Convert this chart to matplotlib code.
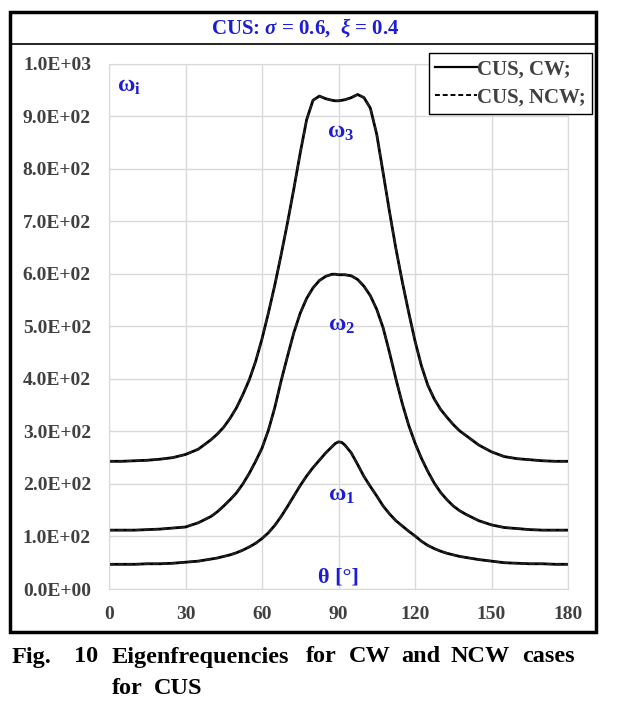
import numpy as np
import matplotlib
matplotlib.use('Agg')
import matplotlib.pyplot as plt
from matplotlib.patches import Rectangle
from matplotlib.lines import Line2D

plt.rcParams['font.family'] = ['Liberation Serif', 'DejaVu Serif']
plt.rcParams['font.weight'] = 'bold'
plt.rcParams['mathtext.fontset'] = 'custom'
plt.rcParams['mathtext.rm'] = 'Liberation Serif:bold'
plt.rcParams['mathtext.it'] = 'Liberation Serif:italic'
plt.rcParams['mathtext.bf'] = 'Liberation Serif:bold'
plt.rcParams['mathtext.default'] = 'regular'

# angle theta [deg]
theta = [0, 5, 10, 15, 20, 25, 30, 35,
         40, 42.5, 45, 47.5, 50, 52.5, 55, 57.5, 60, 62.5, 65, 67.5, 70, 72.5, 75, 77.5,
         80, 82.5, 85, 87.5, 88.75, 90, 91.25, 92.5, 95, 97.5, 100, 102.5, 105, 107.5,
         110, 112.5, 115, 117.5, 120, 122.5, 125, 127.5, 130, 132.5, 135, 137.5, 140,
         145, 150, 155, 160, 165, 170, 175, 180]

# eigenfrequencies, CW case
w1_cw = [47, 47, 47, 48, 48, 49, 51, 53,
         57, 59, 62, 65, 69, 74, 80, 87, 96, 107, 121, 138, 157, 177, 197, 215,
         231, 245, 259, 271, 277, 280, 279, 274, 259, 237, 214, 195, 177, 158,
         143, 130, 120, 110, 101, 91, 83, 77, 72, 68, 65, 62, 60,
         56, 53, 50, 49, 48, 48, 47, 47]
w2_cw = [112, 112, 112, 113, 114, 116, 118, 126,
         138, 147, 158, 170, 183, 200, 220, 243, 268, 302, 345, 396, 443, 488, 525, 553,
         573, 587, 595, 599, 599, 598, 598, 598, 596, 589, 576, 558, 532, 497,
         450, 400, 353, 312, 278, 249, 224, 202, 184, 170, 158, 149, 142,
         130, 122, 117, 115, 113, 112, 112, 112]
w3_cw = [243, 243, 244, 245, 247, 250, 256, 266,
         284, 295, 308, 325, 345, 370, 398, 433, 476, 525, 578, 636, 697, 762, 830, 893,
         930, 938, 933, 930, 929, 929, 930, 931, 935, 941, 935, 915, 865, 792,
         718, 648, 585, 527, 472, 425, 388, 362, 342, 327, 313, 301, 292,
         274, 261, 252, 248, 246, 244, 243, 243]

# NCW case (coincides with CW on the plot)
w1_ncw = list(w1_cw)
w2_ncw = list(w2_cw)
w3_ncw = list(w3_cw)

W, H = 617, 706
fig = plt.figure(figsize=(W / 100, H / 100), dpi=100)
ax = fig.add_axes([109 / W, 1 - 589 / H, 459 / W, (589 - 63.5) / H])

for w in (w1_cw, w2_cw, w3_cw):
    ax.plot(theta, w, color='black', lw=2.0, solid_joinstyle='round')
for w in (w1_ncw, w2_ncw, w3_ncw):
    ax.plot(theta, w, color='#222222', lw=1.4, ls=(0, (3, 1.5)))

ax.set_xlim(0, 180)
ax.set_ylim(0, 1000)
ax.set_xticks(np.arange(0, 181, 30))
ax.set_yticks(np.arange(0, 1001, 100))
ax.set_yticklabels([f'{v:.1E}' for v in np.arange(0, 1001, 100)])
ax.grid(True, color='#d9d9d9', lw=1.0)
ax.set_axisbelow(True)
for s in ax.spines.values():
    s.set_color('#d9d9d9')
ax.tick_params(length=0, labelsize=14, labelcolor='#404040')
ax.tick_params(axis='y', pad=13)
ax.tick_params(axis='x', pad=12)

blue = '#1c1cd6'
ax.text(3, 957, r'ω$_{i}$', color=blue, fontsize=17, ha='left', va='center')
ax.text(91, 868, r'ω$_{3}$', color=blue, fontsize=17, ha='center', va='center')
ax.text(91, 502, r'ω$_{2}$', color=blue, fontsize=17, ha='center', va='center')
ax.text(91, 178, r'ω$_{1}$', color=blue, fontsize=17, ha='center', va='center')
ax.text(90, 22, 'θ [°]', color=blue, fontsize=16, ha='center', va='center')

handles = [Line2D([], [], color='black', lw=1.6),
           Line2D([], [], color='black', lw=1.4, ls=(0, (2.5, 1.5)))]
leg = ax.legend(handles, ['CUS, CW;', 'CUS, NCW;'], loc='upper right',
                bbox_to_anchor=(592 / W, 1 - 53 / H), bbox_transform=fig.transFigure,
                fancybox=False, framealpha=1, edgecolor='black', fontsize=15,
                handlelength=2.0, handletextpad=0.0, borderpad=0.3,
                labelspacing=0.4, borderaxespad=0)
leg.get_frame().set_linewidth(1.0)
for t in leg.get_texts():
    t.set_color('#404040')

# outer frame and title band
fig.patches.append(Rectangle((10 / W, 1 - 632 / H), 586 / W, 620 / H,
                             transform=fig.transFigure, fill=False,
                             edgecolor='black', lw=2.5))
fig.lines.append(Line2D([10 / W, 596 / W], [1 - 44 / H, 1 - 44 / H],
                        transform=fig.transFigure, color='black', lw=1.2))
fig.text(305 / W, 1 - 28 / H, r'CUS: $\mathit{\sigma}$ = 0.6,  $\mathit{\xi}$ = 0.4',
         color=blue, fontsize=15, ha='center', va='center')

# caption
words1 = [('Fig.', 12), ('10', 74), ('Eigenfrequencies', 112), ('for', 306),
          ('CW', 349), ('and', 401), ('NCW', 451), ('cases', 522)]
words2 = [('for', 112), ('CUS', 154)]
for txt, x in words1:
    fig.text(x / W, 1 - 657 / H, txt, fontsize=17.5, ha='left', va='center', color='black')
for txt, x in words2:
    fig.text(x / W, 1 - 689 / H, txt, fontsize=17.5, ha='left', va='center', color='black')

fig.savefig('out.png', dpi=100)
